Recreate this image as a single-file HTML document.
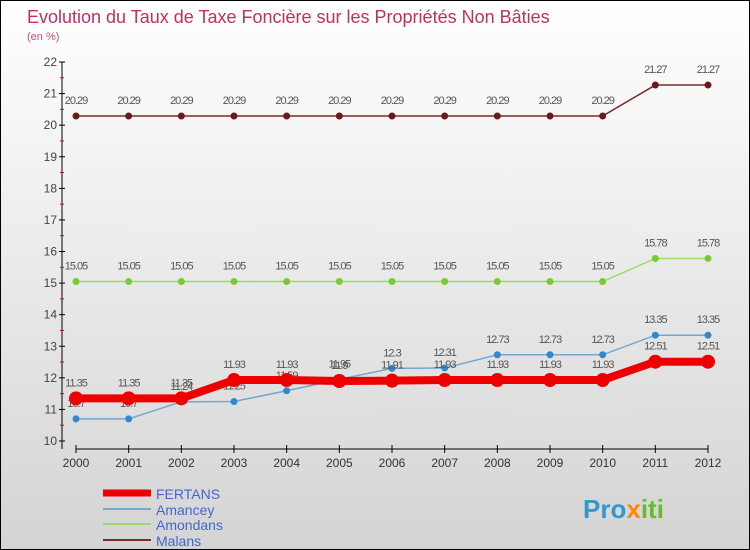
<!DOCTYPE html>
<html><head><meta charset="utf-8"><style>
body{margin:0}
#c{width:750px;height:550px;position:relative;overflow:hidden;border:1px solid #000;box-sizing:border-box;background:linear-gradient(#fff,#d4d4d4);font-family:"Liberation Sans",sans-serif}
</style></head><body>
<div id="c">
<svg id="s" width="750" height="550" style="position:absolute;left:0;top:0">
<text x="26" y="22" font-size="18" fill="#c03060">Evolution du Taux de Taxe Foncière sur les Propriétés Non Bâties</text>
<text x="26" y="39" font-size="11" fill="#c05080">(en %)</text>
<g id="axes"></g><g id="series"></g>
<g>
<line x1="102" y1="492" x2="150" y2="492" stroke="#e00" stroke-width="7"/>
<text x="155" y="498" font-size="14" fill="#4466cc">FERTANS</text>
<line x1="102" y1="508" x2="150" y2="508" stroke="#6fa8d6" stroke-width="2"/>
<text x="155" y="514" font-size="14" fill="#4466cc">Amancey</text>
<line x1="102" y1="523" x2="150" y2="523" stroke="#99dd66" stroke-width="2"/>
<text x="155" y="529" font-size="14" fill="#4466cc">Amondans</text>
<line x1="102" y1="539" x2="150" y2="539" stroke="#7a2a2a" stroke-width="2"/>
<text x="155" y="545" font-size="14" fill="#4466cc">Malans</text>
</g>
<text x="582" y="517" font-size="26" font-weight="bold"><tspan fill="#3399cc">Pro</tspan><tspan fill="#ff8800">x</tspan><tspan fill="#66bb33">iti</tspan></text>
</svg>
</div>
<script>
const years=[2000,2001,2002,2003,2004,2005,2006,2007,2008,2009,2010,2011,2012];
const fertans=[11.35,11.35,11.35,11.93,11.93,11.9,11.91,11.93,11.93,11.93,11.93,12.51,12.51];
const amancey=[10.7,10.7,11.24,11.25,11.59,11.95,12.3,12.31,12.73,12.73,12.73,13.35,13.35];
const amondans=[15.05,15.05,15.05,15.05,15.05,15.05,15.05,15.05,15.05,15.05,15.05,15.78,15.78];
const malans=[20.29,20.29,20.29,20.29,20.29,20.29,20.29,20.29,20.29,20.29,20.29,21.27,21.27];
const yTicks=[10,11,12,13,14,15,16,17,18,19,20,21,22];
const NS="http://www.w3.org/2000/svg";
const xS=i=>75+i*(707-75)/(years.length-1);
const yS=v=>440-(v-10)*(440-61)/12;
function mk(t,a,p){const e=document.createElementNS(NS,t);for(const k in a)e.setAttribute(k,a[k]);p.appendChild(e);return e;}
const ax=document.getElementById('axes');
mk('line',{x1:61,y1:61,x2:61,y2:448,stroke:'#000'},ax);
mk('line',{x1:75,y1:448,x2:707,y2:448,stroke:'#000'},ax);
yTicks.forEach(v=>{
 mk('line',{x1:58,y1:yS(v),x2:64,y2:yS(v),stroke:'#000'},ax);
 if(v<22) mk('line',{x1:59,y1:yS(v+0.5),x2:63,y2:yS(v+0.5),stroke:'#e00'},ax);
 const t=mk('text',{x:56,y:yS(v)+4,'font-size':12,fill:'#444','text-anchor':'end'},ax);
 
 
 t.textContent=v;
});
years.forEach((y,i)=>{
 mk('line',{x1:xS(i),y1:444,x2:xS(i),y2:452,stroke:'#000'},ax);
 const t=mk('text',{x:xS(i),y:466,'font-size':12,fill:'#333','text-anchor':'middle'},ax);
 
 
 t.textContent=y;
});
const sg=document.getElementById('series');
function draw(vals,name,color,w,r,dot){
 const g=mk('g',{},sg);
 
 
 mk('polyline',{points:vals.map((v,i)=>xS(i)+','+yS(v)).join(' '),fill:'none',stroke:color,'stroke-width':w},g);
 vals.forEach((v,i)=>{
  const c=mk('circle',{cx:xS(i),cy:yS(v),r:r,fill:dot},g);
  
  
  const t=mk('text',{x:xS(i),y:yS(v)-12,'font-size':11,fill:'#555','text-anchor':'middle','letter-spacing':'-1'},g);
  
  
  t.textContent=v;
 });
}
draw(malans,'malans','#7a2a2a',1.5,3.5,'#6a1a1a');
draw(amondans,'amondans','#99dd66',1.5,3.5,'#77cc33');
draw(amancey,'amancey','#6fa8d6',1.5,3.5,'#3388cc');
draw(fertans,'fertans','#ee0000',8,7,'#ee0000');
</script>
</body></html>
